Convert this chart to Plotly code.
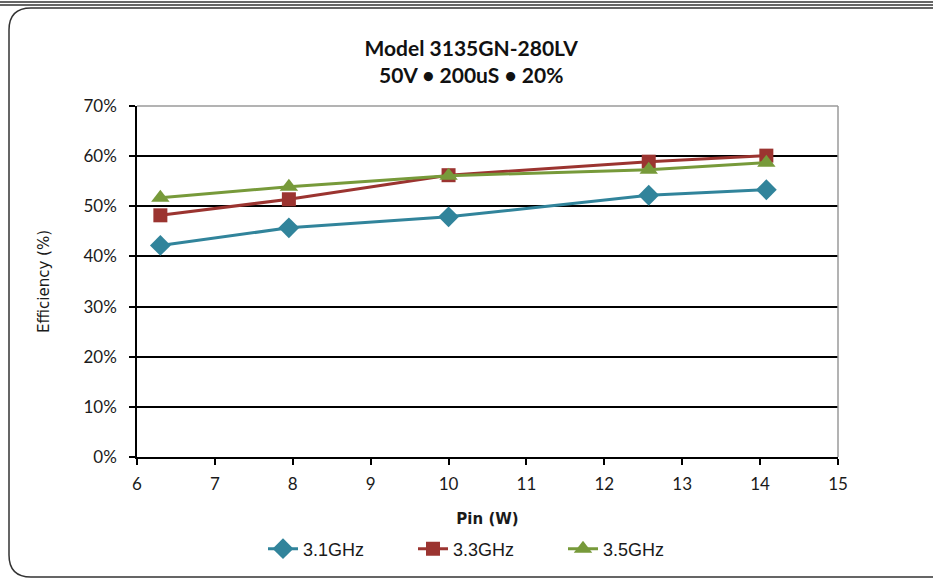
import plotly.graph_objects as go

pin_w = [6.3, 7.95, 10.0, 12.57, 14.08]
series_names = ["3.1GHz", "3.3GHz", "3.5GHz"]
eff_31 = [0.422, 0.457, 0.479, 0.522, 0.533]
eff_33 = [0.482, 0.514, 0.562, 0.589, 0.601]
eff_35 = [0.517, 0.539, 0.561, 0.573, 0.587]
y_ticks = [0, 0.1, 0.2, 0.3, 0.4, 0.5, 0.6, 0.7]
x_ticks = list(range(6, 16))

colors = ["#31849B", "#9B3430", "#779A3A"]
symbols = ["diamond", "square", "triangle-up"]
sizes = [16, 14, 16]

W, H = 933, 581
L, R, T, B = 137, 838, 106, 457

fig = go.Figure()
for name, ys, c, s, sz in zip(series_names, [eff_31, eff_33, eff_35], colors, symbols, sizes):
    fig.add_trace(go.Scatter(
        x=pin_w, y=ys, name=name, mode="lines+markers",
        line=dict(color=c, width=3),
        marker=dict(symbol=s, size=sz, color=c),
    ))

def px(x):
    return (x - L) / (R - L)

def py(y):
    return (B - y) / (B - T)

# rounded outer frame
x0, x1, y0, y1, r = 9, 945, 8, 577, 22
path = (f"M {px(x0+r)},{py(y0)} L {px(x1)},{py(y0)} L {px(x1)},{py(y1)} "
        f"L {px(x0+r)},{py(y1)} Q {px(x0)},{py(y1)} {px(x0)},{py(y1-r)} "
        f"L {px(x0)},{py(y0+r)} Q {px(x0)},{py(y0)} {px(x0+r)},{py(y0)} Z")
shapes = [
    dict(type="path", xref="paper", yref="paper", path=path,
         line=dict(color="#333333", width=1.5), layer="below"),
    dict(type="line", xref="paper", yref="paper", x0=px(0), x1=px(933), y0=py(2), y1=py(2),
         line=dict(color="#333333", width=1.5)),
    dict(type="line", xref="paper", yref="paper", x0=px(0), x1=px(933), y0=py(5), y1=py(5),
         line=dict(color="#333333", width=1.5)),
    dict(type="line", xref="paper", yref="paper", x0=0, x1=1, y0=1, y1=1,
         line=dict(color="#9a9a9a", width=1.5)),
    dict(type="line", xref="paper", yref="paper", x0=1, x1=1, y0=0, y1=1,
         line=dict(color="#9a9a9a", width=1.5)),
]

font_family = "Lato, 'Open Sans', sans-serif"

fig.update_layout(
    width=W, height=H,
    margin=dict(l=L, r=W - R, t=T, b=H - B),
    paper_bgcolor="white", plot_bgcolor="white",
    font=dict(family=font_family, color="#1a1a1a", size=17),
    title=dict(
        text="<b>Model 3135GN-280LV</b><br><b>50V • 200uS • 20%</b>",
        x=0.505, xref="container", xanchor="center",
        y=1 - 56 / H, yref="container", yanchor="middle",
        font=dict(size=21, family=font_family, color="#111111"),
    ),
    xaxis=dict(
        range=[6, 15], tickvals=x_ticks, showgrid=False, zeroline=False,
        showline=True, linecolor="black", linewidth=1.5,
        ticks="outside", ticklen=6, tickcolor="black", tickwidth=1.5,
        tickfont=dict(size=17), ticklabelstandoff=5,
        title=dict(text="<b>Pin (W)</b>", font=dict(size=15, family="'DejaVu Sans', sans-serif"),
                   standoff=20),
    ),
    yaxis=dict(
        range=[0, 0.7], tickvals=y_ticks, tickformat=".0%",
        showgrid=True, gridcolor="black", gridwidth=1.8, zeroline=False,
        showline=True, linecolor="black", linewidth=1.5,
        ticks="outside", ticklen=6, tickcolor="black", tickwidth=1.5,
        tickfont=dict(size=17), ticklabelstandoff=9,
        title=dict(text="Efficiency (%)", font=dict(size=15, family="'DejaVu Sans', sans-serif"),
                   standoff=30),
    ),
    legend=dict(
        orientation="h", x=(488 - L) / (R - L), xanchor="center",
        y=-(549 - B) / (B - T), yanchor="middle",
        font=dict(size=18, family="'Liberation Sans', Arial, sans-serif"),
        bgcolor="rgba(0,0,0,0)", entrywidth=105,
    ),
    shapes=shapes,
)

fig.write_html("out.html", post_script="document.body.style.margin='0';",
               config={"displayModeBar": False})
